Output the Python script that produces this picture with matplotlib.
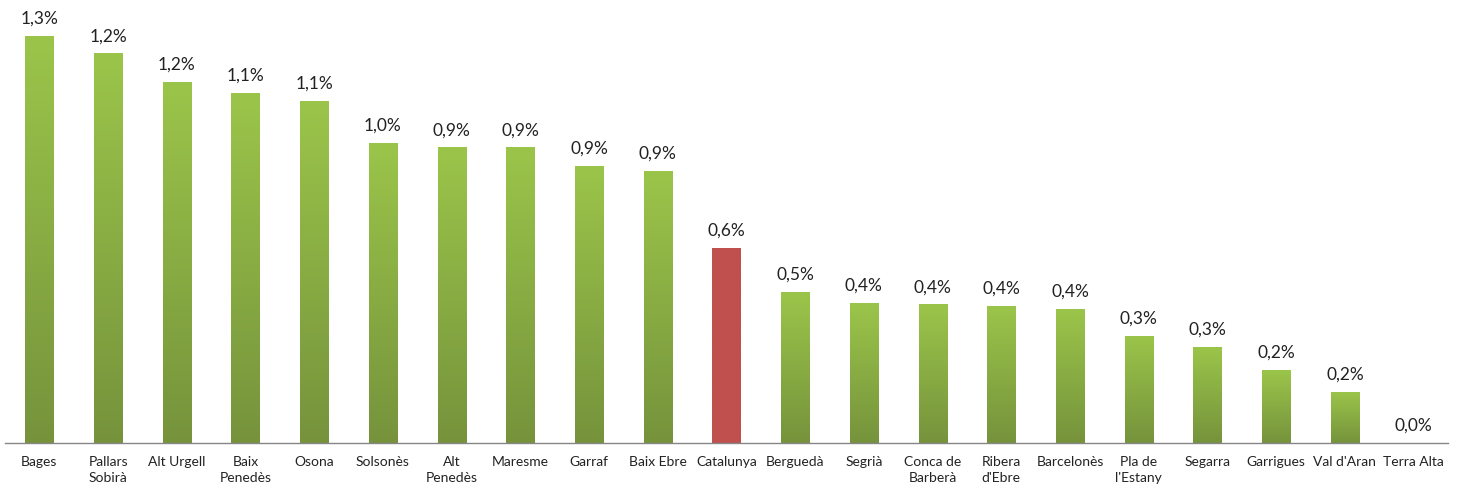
import numpy as np
import matplotlib.pyplot as plt
from matplotlib.colors import LinearSegmentedColormap

CATEGORIES = ["Bages", "Pallars\nSobirà", "Alt Urgell", "Baix\nPenedès", "Osona", "Solsonès",
              "Alt\nPenedès", "Maresme", "Garraf", "Baix Ebre", "Catalunya", "Berguedà",
              "Segrià", "Conca de\nBarberà", "Ribera\nd'Ebre", "Barcelonès", "Pla de\nl'Estany",
              "Segarra", "Garrigues", "Val d'Aran", "Terra Alta"]
VALUES = [1.30, 1.245, 1.153, 1.118, 1.093, 0.96, 0.945, 0.945, 0.885, 0.869, 0.623, 0.482,
          0.447, 0.443, 0.438, 0.428, 0.342, 0.307, 0.233, 0.163, 0.0]
HIGHLIGHT = "Catalunya"

plt.rcParams['font.family'] = ['Lato', 'DejaVu Sans']

fig = plt.figure(figsize=(14.6, 4.9), dpi=100)
ax = fig.add_axes([5/1460, 47/490, 1443/1460, 443/490])

x = np.arange(len(VALUES))
bars = ax.bar(x, VALUES, width=0.41, color='none', edgecolor='none')

green = LinearSegmentedColormap.from_list('g', ['#76933c', '#9bc54a'])
red = LinearSegmentedColormap.from_list('r', ['#c0504d', '#c0504d'])
grad = np.linspace(0, 1, 256).reshape(-1, 1)

for b, cat, v in zip(bars, CATEGORIES, VALUES):
    if v > 0:
        cmap = red if cat == HIGHLIGHT else green
        x0 = b.get_x()
        im = ax.imshow(grad, cmap=cmap, origin='lower', aspect='auto',
                       extent=[x0, x0 + b.get_width(), 0, v], zorder=2)
        im.set_clip_path(b)
    lbl = f"{v:.1f}%".replace(".", ",")
    ax.annotate(lbl, (b.get_x() + b.get_width() / 2, v), xytext=(0, 6.5),
                textcoords='offset points', ha='center', va='bottom',
                fontsize=12.5, color='#222222')

ax.set_xlim(-0.5, len(VALUES) - 0.5)
ax.set_ylim(0, 443 / 313)
ax.set_xticks(x)
ax.set_xticklabels(CATEGORIES, fontsize=10, color='#222222', linespacing=1.45)
ax.tick_params(axis='x', length=0, pad=9)
ax.set_yticks([])
for s in ['top', 'left', 'right']:
    ax.spines[s].set_visible(False)
ax.spines['bottom'].set_color('#868686')
ax.spines['bottom'].set_linewidth(1)
ax.spines['bottom'].set_zorder(3)

plt.savefig('out.png', dpi=100)
